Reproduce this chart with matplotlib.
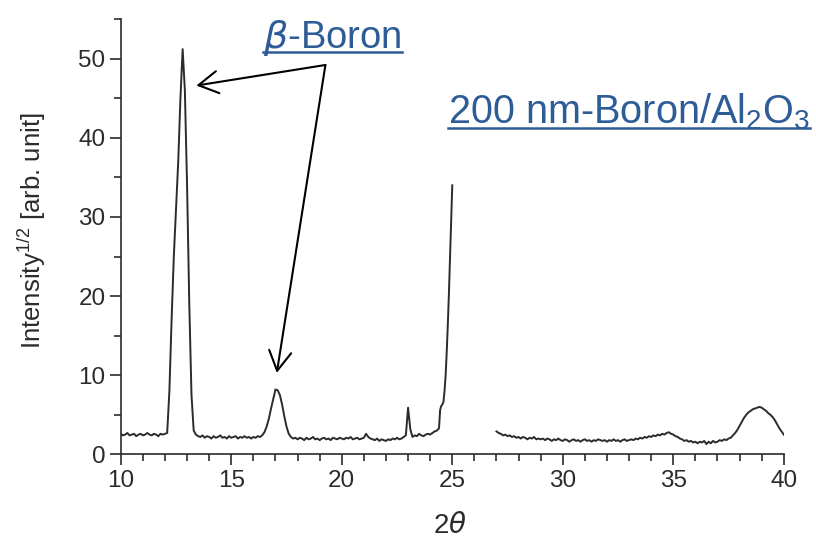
import numpy as np
import matplotlib
matplotlib.use("Agg")
import matplotlib.pyplot as plt
from matplotlib.lines import Line2D
from matplotlib.ticker import MultipleLocator

plt.rcParams['font.family'] = ['Liberation Sans', 'DejaVu Sans']
plt.rcParams['mathtext.default'] = 'regular'

# ---- data ----
x1_grid = np.round(np.arange(10.0, 24.41, 0.1), 2)
y1_grid = [
    2.6, 2.4, 2.5, 2.7, 2.4, 2.5, 2.6, 2.3, 2.5, 2.6,
    2.4, 2.5, 2.7, 2.5, 2.4, 2.6, 2.5, 2.3, 2.6, 2.5,
    2.6, 2.7, 8.0, 17.0, 25.0, 31.0, 37.0, 45.0, 51.2, 46.0,
    34.0, 19.0, 7.5, 3.0, 2.5, 2.3, 2.2, 2.4, 2.1, 2.3,
    2.2, 2.0, 2.3, 2.1, 2.2, 2.4, 2.1, 2.2, 2.0, 2.3,
    2.1, 2.2, 2.3, 2.0, 2.2, 2.1, 2.3, 2.1, 2.2, 2.0,
    2.2, 2.1, 2.3, 2.2, 2.4, 2.8, 3.5, 4.5, 5.8, 7.0,
    8.2, 8.1, 7.5, 6.3, 4.8, 3.5, 2.6, 2.2, 2.0, 2.1,
    1.9, 2.1, 2.0, 1.8, 2.1, 1.9, 2.0, 2.2, 1.9, 2.0,
    1.8, 2.0, 2.1, 1.9, 2.0, 1.8, 2.1, 2.0, 1.9, 2.1,
    2.0, 1.9, 2.1, 2.0, 2.2, 1.9, 2.0, 2.1, 1.9, 2.0,
    2.1, 2.6, 2.2, 2.0, 1.9, 1.8, 2.0, 1.7, 1.9, 1.8,
    1.7, 1.9, 1.8, 2.0, 1.9, 2.1, 1.9, 2.0, 2.2, 2.4,
    5.9, 3.2, 2.2, 2.4, 2.3, 2.6, 2.4, 2.3, 2.5, 2.6,
    2.5, 2.7, 2.9, 3.0, 3.3,
]
x1_tail = [24.45, 24.5, 24.55, 24.6, 24.65, 24.7, 24.75, 24.8, 24.85, 24.9, 24.95, 25.0]
y1_tail = [5.6, 6.1, 6.3, 6.6, 8.0, 10.0, 13.0, 16.5, 20.5, 25.0, 29.6, 34.0]

x2 = np.round(np.arange(27.0, 40.01, 0.1), 2)
y2 = [
    2.9, 2.7, 2.6, 2.4, 2.5, 2.3, 2.4, 2.2, 2.3, 2.1,
    2.2, 2.0, 2.2, 2.1, 1.9, 2.1, 2.0, 2.2, 1.9, 2.0,
    1.9, 2.0, 1.8, 2.0, 1.9, 1.7, 1.9, 1.8, 2.0, 1.8,
    1.7, 1.9, 1.8, 1.6, 1.8, 1.9, 1.7, 1.8, 1.6, 1.8,
    1.9, 1.7, 1.8, 1.6, 1.8, 1.7, 1.9, 1.8, 1.7, 1.8,
    1.6, 1.8, 1.7, 1.9, 1.7, 1.8, 1.6, 1.8, 1.9, 1.7,
    1.8, 1.9, 1.8, 2.0, 1.9, 2.1, 2.0, 2.2, 2.1, 2.3,
    2.2, 2.4, 2.3, 2.5, 2.4, 2.6, 2.5, 2.7, 2.8, 2.6,
    2.5, 2.3, 2.2, 2.0, 1.9, 1.7, 1.8, 1.6, 1.7, 1.5,
    1.6, 1.4, 1.6, 1.5, 1.7, 1.3, 1.6, 1.4, 1.7, 1.5,
    1.6, 1.8, 1.7, 1.9, 1.8, 2.0, 2.1, 2.4, 2.7, 3.1,
    3.6, 4.1, 4.6, 5.0, 5.3, 5.5, 5.7, 5.8, 5.9, 6.0,
    5.9, 5.7, 5.5, 5.2, 5.0, 4.7, 4.3, 3.8, 3.3, 2.9,
    2.5,
]

x1 = np.concatenate([x1_grid, x1_tail])
y1 = np.concatenate([y1_grid, y1_tail])

arrow_start = (19.26, 49.2)
arrow_tips = [(13.42, 46.6), (17.06, 10.3)]

blue = '#2e5c97'
ink = '#2b2b2b'

fig = plt.figure(figsize=(8.16, 5.39), dpi=100)
ax = fig.add_axes([0.148, 0.157, 0.8125, 0.8076])
ax.plot(x1, y1, color=ink, lw=1.4)
ax.plot(x2, y2, color=ink, lw=1.4)
ax.set_xlim(10, 40)
ax.set_ylim(0, 55)
ax.xaxis.set_major_locator(MultipleLocator(5))
ax.xaxis.set_minor_locator(MultipleLocator(1))
ax.yaxis.set_major_locator(MultipleLocator(10))
ax.yaxis.set_minor_locator(MultipleLocator(5))
for s in ['top', 'right']:
    ax.spines[s].set_visible(False)
for s in ['left', 'bottom']:
    ax.spines[s].set_color(ink)
    ax.spines[s].set_linewidth(1.2)
ax.tick_params(which='major', direction='out', length=8, width=1.2, labelsize=17.5, colors=ink)
ax.tick_params(which='minor', direction='out', length=5, width=1.2, colors=ink)
ax.tick_params(axis='x', pad=3)
ax.tick_params(axis='y', pad=3)
ax.set_xlabel(r'2$\mathit{\theta}$', fontsize=20, color=ink)
ax.xaxis.label.set_va('center')
ax.xaxis.set_label_coords(0.497, -0.165)
ax.set_ylabel(r'Intensity$^{1/2}$ [arb. unit]', fontsize=18.5, color=ink)
ax.yaxis.label.set_va('center')
ax.yaxis.set_label_coords(-0.134, 0.513)

for tip in arrow_tips:
    ax.annotate('', xy=tip, xytext=arrow_start, annotation_clip=False,
                arrowprops=dict(arrowstyle='->, head_length=0.7, head_width=0.4', lw=1.5,
                                color='black', mutation_scale=20, shrinkA=0, shrinkB=0))

t1 = fig.text(263 / 816, 1 - 48 / 539, r'$\mathit{\beta}$-Boron', fontsize=27.5,
              color=blue, ha='left', va='baseline')
t2 = fig.text(448 / 816, 1 - 123 / 539, r'200 nm-Boron/Al$_{2}$O$_{3}$', fontsize=28.5,
              color=blue, ha='left', va='baseline')

fig.canvas.draw()
r = fig.canvas.get_renderer()
W, H = fig.bbox.width, fig.bbox.height
for t, yu in [(t1, 52), (t2, 128)]:
    bb = t.get_window_extent(r)
    fig.add_artist(Line2D([bb.x0 / W, bb.x1 / W], [1 - yu / 539, 1 - yu / 539],
                          color=blue, lw=1.8, transform=fig.transFigure))

fig.savefig('out.png', dpi=100)
